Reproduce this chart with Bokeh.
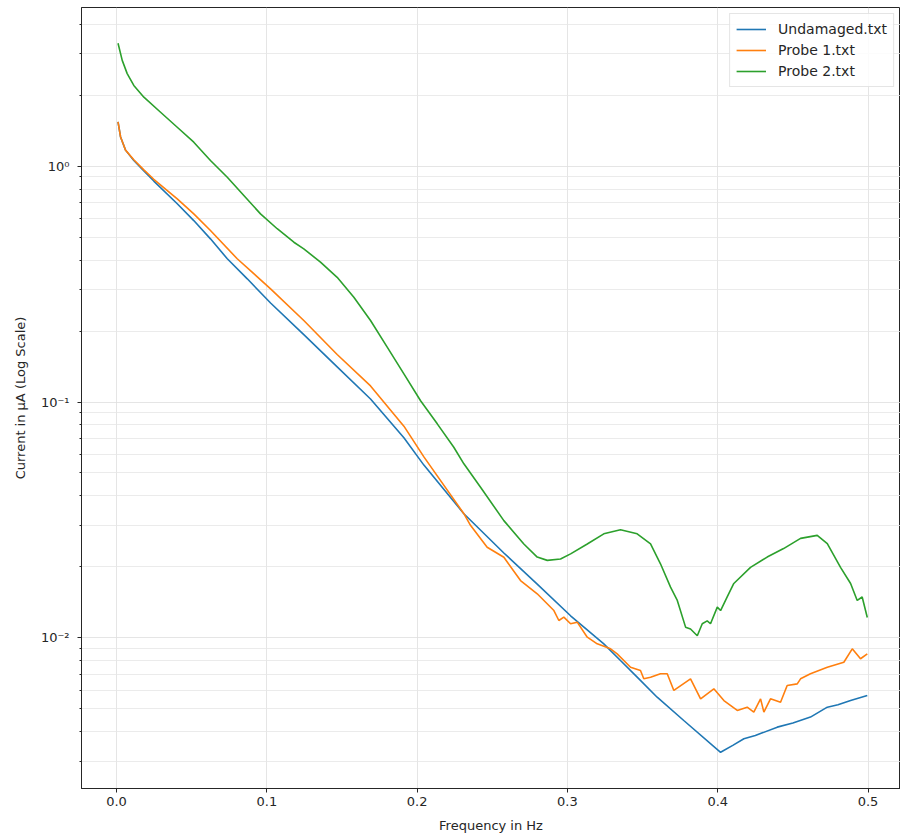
from bokeh.plotting import figure
from bokeh.models import FixedTicker, CustomJSTickFormatter, Range1d
from bokeh.embed import file_html
from bokeh.resources import INLINE

# ---------------- data ----------------
freq_undamaged = [0.001, 0.0027, 0.006, 0.0115, 0.0182, 0.0248, 0.0404, 0.0514, 0.0625,
                  0.0737, 0.087, 0.1025, 0.1246, 0.1468, 0.169, 0.1912, 0.2045, 0.2311,
                  0.2577, 0.2799, 0.3021, 0.3242, 0.3353, 0.3464, 0.3597, 0.3774, 0.4019,
                  0.410, 0.4174, 0.425, 0.4396, 0.450, 0.4617, 0.4729, 0.480, 0.4884,
                  0.4995]
cur_undamaged = [1.54, 1.33, 1.17, 1.057, 0.955, 0.865, 0.693, 0.588, 0.492,
                 0.405, 0.333, 0.263, 0.193, 0.141, 0.103, 0.0705, 0.054, 0.0336,
                 0.0229, 0.0169, 0.0124, 0.00943, 0.00801, 0.00681, 0.0056, 0.00446, 0.00327,
                 0.00350, 0.00373, 0.00385, 0.00418, 0.00435, 0.00461, 0.00508, 0.00520, 0.00542,
                 0.00569]

freq_probe1 = [0.001, 0.0027, 0.006, 0.0115, 0.0182, 0.0248, 0.0404, 0.0514, 0.0625,
               0.0803, 0.1025, 0.1246, 0.1468, 0.169, 0.1912, 0.2045, 0.2311, 0.2355,
               0.2466, 0.2577, 0.2688, 0.2799, 0.291, 0.2943, 0.2976, 0.3021, 0.3065,
               0.3132, 0.3198, 0.3287, 0.3331, 0.342, 0.3486, 0.3508, 0.3553, 0.3619,
               0.3664, 0.3708, 0.3819, 0.3886, 0.3974, 0.4041, 0.413, 0.4196, 0.424,
               0.4285, 0.4307, 0.4351, 0.4418, 0.4462, 0.4529, 0.4551, 0.4617, 0.4729,
               0.4839, 0.4895, 0.495, 0.4995]
cur_probe1 = [1.54, 1.33, 1.17, 1.065, 0.965, 0.88, 0.727, 0.628, 0.534,
              0.405, 0.302, 0.2216, 0.159, 0.117, 0.079, 0.0585, 0.0336, 0.0300,
              0.02422, 0.02197, 0.0175, 0.01537, 0.01305, 0.01184, 0.01223, 0.01147, 0.01165,
              0.01006, 0.00943, 0.00898, 0.00855, 0.0075, 0.00727, 0.0067, 0.00681, 0.00704,
              0.00704, 0.00598, 0.0067, 0.00551, 0.00608, 0.00542, 0.00492, 0.00508, 0.00484,
              0.00551, 0.00484, 0.00551, 0.00533, 0.00628, 0.00638, 0.0067, 0.00704, 0.0075,
              0.00788, 0.00898, 0.00815, 0.00855]

freq_probe2 = [0.001, 0.0038, 0.0071, 0.0115, 0.0182, 0.0293, 0.0404, 0.0514, 0.0625,
               0.0737, 0.0847, 0.0958, 0.1069, 0.118, 0.1246, 0.1357, 0.1468, 0.1579,
               0.169, 0.1801, 0.1912, 0.2023, 0.2134, 0.2244, 0.2311, 0.2422, 0.2577,
               0.271, 0.2799, 0.2866, 0.2954, 0.3021, 0.3132, 0.3242, 0.3353, 0.3464,
               0.3553, 0.3619, 0.3686, 0.3731, 0.3786, 0.3819, 0.3864, 0.3897, 0.393,
               0.3952, 0.3997, 0.4019, 0.4063, 0.4107, 0.4218, 0.4329, 0.4438, 0.4551,
               0.4662, 0.4729, 0.4817, 0.4884, 0.4928, 0.4961, 0.4995]
cur_probe2 = [3.32, 2.81, 2.47, 2.20, 1.962, 1.694, 1.463, 1.264, 1.057,
              0.898, 0.751, 0.628, 0.543, 0.476, 0.446, 0.392, 0.338, 0.278,
              0.2216, 0.1708, 0.1317, 0.1012, 0.0808, 0.0643, 0.0547, 0.0435, 0.0314,
              0.0250, 0.0220, 0.0213, 0.0216, 0.0227, 0.0250, 0.0276, 0.0287, 0.0276,
              0.0250, 0.0206, 0.0164, 0.0144, 0.0111, 0.0109, 0.0102, 0.01147, 0.0118,
              0.01147, 0.0135, 0.01305, 0.0149, 0.0170, 0.0199, 0.0220, 0.0239, 0.0264,
              0.0272, 0.0251, 0.0199, 0.0170, 0.0144, 0.0149, 0.0122]

series_names = ["Undamaged.txt", "Probe 1.txt", "Probe 2.txt"]
series_colors = ["#1f77b4", "#ff7f0e", "#2ca02c"]

x_ticks = [0.0, 0.1, 0.2, 0.3, 0.4, 0.5]
x_tick_labels = ["0.0", "0.1", "0.2", "0.3", "0.4", "0.5"]
y_ticks = [0.01, 0.1, 1.0]
y_tick_labels = ["10\u207b\u00b2", "10\u207b\u00b9", "10\u2070"]
y_minor_ticks = [0.003, 0.004, 0.005, 0.006, 0.007, 0.008, 0.009,
                 0.02, 0.03, 0.04, 0.05, 0.06, 0.07, 0.08, 0.09,
                 0.2, 0.3, 0.4, 0.5, 0.6, 0.7, 0.8, 0.9,
                 2.0, 3.0, 4.0]

x_label = "Frequency in Hz"
y_label = "Current in \u00b5A (Log Scale)"

# ---------------- figure ----------------
FONT = "DejaVu Sans"
p = figure(width=900, height=838, y_axis_type="log",
           x_range=Range1d(-0.0233, 0.5216), y_range=Range1d(0.002296, 4.71),
           output_backend="svg", toolbar_location=None,
           min_border_left=81, min_border_right=0, min_border_top=7, min_border_bottom=50)

p.background_fill_color = "white"
p.border_fill_color = "white"
p.outline_line_color = "#262626"
p.outline_line_width = 1

xt = FixedTicker(ticks=x_ticks, minor_ticks=[])
yt = FixedTicker(ticks=y_ticks, minor_ticks=y_minor_ticks)
p.xaxis.ticker = xt
p.yaxis.ticker = yt
p.xgrid.ticker = xt
p.ygrid.ticker = yt

p.xaxis.formatter = CustomJSTickFormatter(args=dict(tvals=x_ticks, tlabels=x_tick_labels), code="""
    let best = 0, bd = 1e9;
    for (let i = 0; i < tvals.length; i++) { const d = Math.abs(tvals[i] - tick); if (d < bd) { bd = d; best = i; } }
    return tlabels[best];
""")
p.yaxis.formatter = CustomJSTickFormatter(args=dict(tvals=y_ticks, tlabels=y_tick_labels), code="""
    let best = 0, bd = 1e9;
    for (let i = 0; i < tvals.length; i++) { const d = Math.abs(Math.log10(tvals[i]) - Math.log10(tick)); if (d < bd) { bd = d; best = i; } }
    return tlabels[best];
""")

for ax in (p.xaxis, p.yaxis):
    ax.axis_line_color = "#262626"
    ax.axis_line_width = 1
    ax.major_tick_line_color = "#262626"
    ax.minor_tick_line_color = "#262626"
    ax.major_tick_out = 4
    ax.major_tick_in = 0
    ax.minor_tick_out = 2
    ax.minor_tick_in = 0
    ax.major_label_text_font = FONT
    ax.major_label_text_font_size = "13px"
    ax.major_label_text_color = "#262626"
    ax.axis_label_text_font = FONT
    ax.axis_label_text_font_size = "13px"
    ax.axis_label_text_font_style = "normal"
    ax.axis_label_text_color = "#262626"

p.xaxis.minor_tick_line_color = None
p.xaxis.major_label_standoff = 4
p.xaxis.axis_label_standoff = 9
p.yaxis.major_label_standoff = 8
p.yaxis.axis_label_standoff = 10
p.xaxis.axis_label = x_label
p.yaxis.axis_label = y_label

p.xgrid.grid_line_color = "#dedede"
p.xgrid.grid_line_width = 0.8
p.ygrid.grid_line_color = "#dedede"
p.ygrid.grid_line_width = 0.8
p.ygrid.minor_grid_line_color = "#e6e6e6"
p.ygrid.minor_grid_line_width = 0.8

series = [(freq_undamaged, cur_undamaged), (freq_probe1, cur_probe1), (freq_probe2, cur_probe2)]
for (fx, cy), name, col in zip(series, series_names, series_colors):
    p.line(fx, cy, line_color=col, line_width=1.6, legend_label=name)

lg = p.legend[0]
lg.location = "top_right"
lg.margin = 6
lg.padding = 6
lg.spacing = 3
lg.glyph_width = 30
lg.glyph_height = 18
lg.label_height = 18
lg.label_standoff = 12
lg.label_text_font = FONT
lg.label_text_font_size = "14px"
lg.label_text_color = "#262626"
lg.border_line_color = "#cccccc"
lg.border_line_width = 1
lg.background_fill_color = "white"
lg.background_fill_alpha = 0.85

open("out.html", "w").write(file_html(p, INLINE))
